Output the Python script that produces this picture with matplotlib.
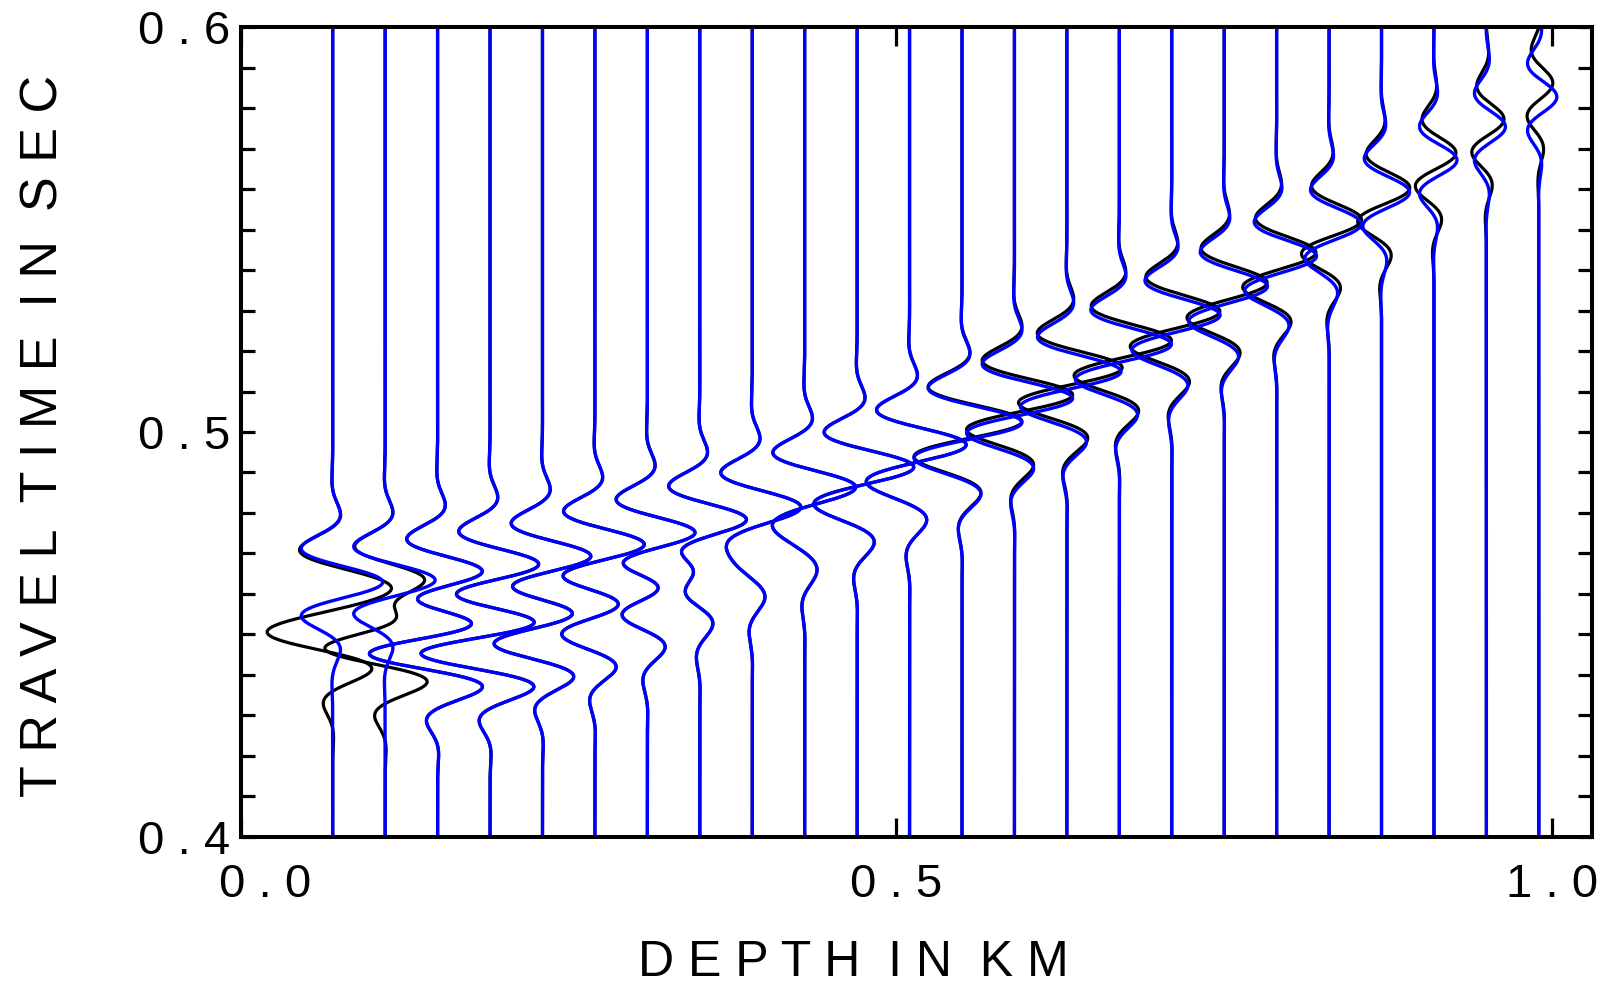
import numpy as np
import matplotlib
matplotlib.use("Agg")
import matplotlib.pyplot as plt
import matplotlib.transforms as mtransforms
from matplotlib.ticker import MultipleLocator

plt.rcParams["font.family"] = "Liberation Sans"

# receiver depths (km), one trace each
depth = [0.07, 0.11, 0.15, 0.19, 0.23, 0.27, 0.31, 0.35, 0.39, 0.43, 0.47, 0.51,
         0.55, 0.59, 0.63, 0.67, 0.71, 0.75, 0.79, 0.83, 0.87, 0.91, 0.95, 0.99]

# blue traces: first arrival (positive peak time, amplitude) and second arrival (trough time, amplitude)
blue_t_a = [0.4629, 0.4634, 0.4652, 0.4671, 0.4691, 0.4721, 0.4750, 0.4783, 0.4817, 0.4867, 0.4918, 0.4973,
            0.5027, 0.5086, 0.5153, 0.5220, 0.5292, 0.5363, 0.5437, 0.5516, 0.5593, 0.5672, 0.5754, 0.5828]
blue_a = [50, 50, 50, 50, 50, 50, 50, 50, 50, 50, 50, 50, 50, 47, 42, 41, 39, 35, 33, 28, 27, 23, 19, 18]
blue_t_b = [0.4496, 0.4466, 0.4454, 0.4454, 0.4479, 0.4503, 0.4553, 0.4610, 0.4671, 0.4733, 0.4802, 0.4857,
            0.4923, 0.4988, 0.5054, 0.5121, 0.5193, 0.5264, 0.5341, 0.5420, 0.5494, 0.5573, 0.5655, 0.5729]
blue_b = [0, 0, 72, 70, 50, 34, 29, 22, 20, 17, 20, 20, 20, 20, 22, 20, 17, 15, 12, 7, 2, 0, 0, 0]

# black traces
black_t_a = [0.4629, 0.4634, 0.4652, 0.4671, 0.4691, 0.4721, 0.4750, 0.4783, 0.4817, 0.4867, 0.4918, 0.4973,
             0.5030, 0.5095, 0.5163, 0.5230, 0.5302, 0.5373, 0.5447, 0.5526, 0.5604, 0.5689, 0.5771, 0.5860]
black_a = [50, 50, 50, 50, 50, 50, 50, 50, 50, 50, 50, 50, 50, 47, 42, 40, 37, 33, 30, 25, 22, 17, 14, 11]
black_t_b = [0.4496, 0.4466, 0.4454, 0.4454, 0.4479, 0.4503, 0.4553, 0.4610, 0.4671, 0.4733, 0.4802, 0.4857,
             0.4926, 0.4997, 0.5064, 0.5131, 0.5203, 0.5274, 0.5351, 0.5437, 0.5519, 0.5610, 0.5697, 0.5786]
black_b = [60, 68, 72, 70, 50, 34, 29, 22, 20, 17, 20, 20, 20, 20, 24, 22, 20, 18, 16, 12, 10, 8, 6, 5]

xtick_vals = [0.0, 0.5, 1.0]
xtick_labels = ["0 . 0", "0 . 5", "1 . 0"]
ytick_vals = [0.4, 0.5, 0.6]
ytick_labels = ["0 . 4", "0 . 5", "0 . 6"]

FREQ = 54.6      # Hz
WIDTH = 0.0128   # s, gaussian envelope
GAIN = 1.0 / 1311.0  # km per amplitude unit


def wavelet(t, tc):
    tau = t - tc
    return np.exp(-(tau / WIDTH) ** 2) * np.cos(2 * np.pi * FREQ * tau)


t = np.linspace(0.395, 0.605, 4000)

fig = plt.figure(figsize=(16.17, 9.89), dpi=100)
ax = fig.add_axes([0.149, 0.154, 0.8355, 0.8184])

for z, ta, a, tb, b in zip(depth, black_t_a, black_a, black_t_b, black_b):
    x = z + GAIN * (a * wavelet(t, ta) - b * wavelet(t, tb))
    ax.plot(x, t, color="black", lw=2.3)

for z, ta, a, tb, b in zip(depth, blue_t_a, blue_a, blue_t_b, blue_b):
    x = z + GAIN * (a * wavelet(t, ta) - b * wavelet(t, tb))
    ax.plot(x, t, color="#0000ff", lw=2.4)

ax.set_xlim(0, 1.0305)
ax.set_ylim(0.4, 0.6)

ax.set_xticks(xtick_vals)
ax.set_xticklabels(xtick_labels)
ax.set_yticks(ytick_vals)
ax.set_yticklabels(ytick_labels)
ax.yaxis.set_minor_locator(MultipleLocator(0.01))

for s in ax.spines.values():
    s.set_linewidth(2.9)

ax.tick_params(axis="y", which="both", direction="in", left=True, right=True,
               length=10, width=2.3, labelsize=34, pad=8)
ax.tick_params(axis="x", which="both", direction="in", bottom=True, top=True,
               length=14, width=2.3, labelsize=34, pad=19)

# first x label sits a bit right of its tick
lab0 = ax.xaxis.get_major_ticks()[0].label1
lab0.set_transform(lab0.get_transform() + mtransforms.ScaledTranslation(0.24, 0, fig.dpi_scale_trans))

fig.text(0.0272, 0.5594, "T R A V E L  T I M E  I N  S E C", rotation=90,
         fontsize=37.5, ha="center", va="center")
fig.text(0.5275, 0.026, "D E P T H  I N  K M", fontsize=36, ha="center", va="center")

fig.savefig("out.png", dpi=100)
